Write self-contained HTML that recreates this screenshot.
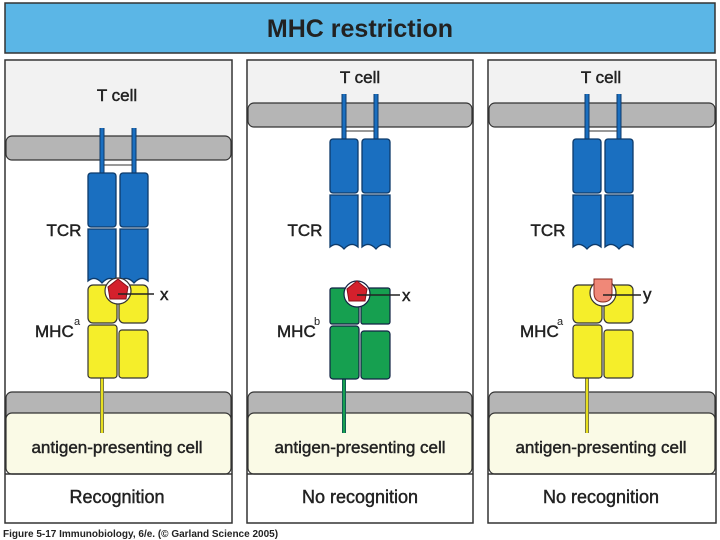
<!DOCTYPE html>
<html><head><style>body{margin:0;background:#fff}svg{display:block}.t{stroke:#222;stroke-width:0.45}</style></head><body>
<svg width="720" height="540" viewBox="0 0 720 540" xmlns="http://www.w3.org/2000/svg" font-family="Liberation Sans, sans-serif">
<defs>
<g id="tcr">
  <line x1="14" y1="-45" x2="14" y2="2" stroke="#0d3a6a" stroke-width="5"/>
  <line x1="14" y1="-45" x2="14" y2="2" stroke="#1a6fc0" stroke-width="3"/>
  <line x1="46" y1="-45" x2="46" y2="2" stroke="#0d3a6a" stroke-width="5"/>
  <line x1="46" y1="-45" x2="46" y2="2" stroke="#1a6fc0" stroke-width="3"/>
  <line x1="16" y1="-8" x2="44" y2="-8" stroke="#333" stroke-width="1"/>
  <g fill="#1a6fc0" stroke="#0d3a6a" stroke-width="1.3">
    <rect x="0" y="0" width="28" height="54" rx="3"/>
    <rect x="32" y="0" width="28" height="54" rx="3"/>
    <path d="M0,56 H28 V108 Q21,102 14,110 Q7,102 0,108 Z"/>
    <path d="M32,56 H60 V108 Q53,102 46,110 Q39,102 32,108 Z"/>
  </g>
</g>
</defs>

<rect x="5" y="3" width="710" height="50" fill="#5bb6e6" stroke="#333" stroke-width="1.5"/>
<text x="360" y="37" font-size="25" font-weight="bold" text-anchor="middle" fill="#222">MHC restriction</text>

<!-- panel 1 -->
<rect x="5" y="60" width="227" height="463" fill="#fff" stroke="#333" stroke-width="1.5"/>
<rect x="6" y="61" width="225" height="77" fill="#f2f2f2"/>
<rect x="6" y="136" width="225" height="24" rx="6" fill="#b5b5b5" stroke="#333" stroke-width="1.2"/>
<text class="t" x="117" y="101" font-size="17" text-anchor="middle" fill="#222">T cell</text>
<rect x="6" y="392" width="225" height="30" rx="6" fill="#b5b5b5" stroke="#333" stroke-width="1.2"/>
<rect x="6" y="413" width="225" height="61" rx="6" fill="#fafae6" stroke="#333" stroke-width="1.2"/>
<line x1="5" y1="474" x2="232" y2="474" stroke="#333" stroke-width="1.5"/>
<use href="#tcr" x="88" y="173"/>
<text class="t" x="64" y="236" font-size="17" text-anchor="middle" fill="#222">TCR</text>
<g transform="translate(88,283)">
  <line x1="14" y1="95" x2="14" y2="150" stroke="#555" stroke-width="4"/>
  <line x1="14" y1="95" x2="14" y2="150" stroke="#e8e020" stroke-width="2.5"/>
  <g fill="#f5ee2a" stroke="#333" stroke-width="1.2">
    <rect x="0" y="2" width="29" height="38" rx="5"/>
    <rect x="31" y="2" width="29" height="38" rx="5"/>
    <rect x="0" y="42" width="29" height="53" rx="3"/>
    <rect x="31" y="47" width="29" height="48" rx="3"/>
    <circle cx="30" cy="8" r="13" fill="#fff"/>
  </g>
  <path d="M30,-4 L40,4 L38,16 L22,16 L20,4 Z" fill="#d4202c" stroke="#8a1018" stroke-width="1"/>
  <line x1="30" y1="11" x2="66" y2="11" stroke="#222" stroke-width="1.5"/>
  <text class="t" x="72" y="17" font-size="17" fill="#222">x</text>
</g>
<text class="t" x="35" y="337" font-size="17" fill="#222">MHC</text><text x="74" y="325" font-size="11" fill="#222">a</text>
<text class="t" x="117" y="453" font-size="17" text-anchor="middle" fill="#222">antigen-presenting cell</text>
<text class="t" x="117" y="503" font-size="18" text-anchor="middle" fill="#222">Recognition</text>

<!-- panel 2 -->
<rect x="247" y="60" width="226" height="463" fill="#fff" stroke="#333" stroke-width="1.5"/>
<rect x="248" y="61" width="224" height="43" fill="#f2f2f2"/>
<rect x="248" y="103" width="224" height="24" rx="6" fill="#b5b5b5" stroke="#333" stroke-width="1.2"/>
<text class="t" x="360" y="83" font-size="17" text-anchor="middle" fill="#222">T cell</text>
<rect x="248" y="392" width="224" height="30" rx="6" fill="#b5b5b5" stroke="#333" stroke-width="1.2"/>
<rect x="248" y="413" width="224" height="61" rx="6" fill="#fafae6" stroke="#333" stroke-width="1.2"/>
<line x1="247" y1="474" x2="473" y2="474" stroke="#333" stroke-width="1.5"/>
<use href="#tcr" x="330" y="139"/>
<text class="t" x="305" y="236" font-size="17" text-anchor="middle" fill="#222">TCR</text>
<g transform="translate(330,288)">
  <line x1="14" y1="91" x2="14" y2="145" stroke="#145" stroke-width="4"/>
  <line x1="14" y1="91" x2="14" y2="145" stroke="#16a050" stroke-width="2.5"/>
  <g fill="#16a050" stroke="#124" stroke-width="1.2">
    <rect x="0" y="0" width="29" height="36" rx="2"/>
    <rect x="31" y="0" width="29" height="36" rx="2"/>
    <rect x="0" y="38" width="29" height="53" rx="3"/>
    <rect x="31" y="43" width="29" height="48" rx="3"/>
    <circle cx="27" cy="6" r="13" fill="#fff"/>
  </g>
  <path d="M27,-7 L37,1 L35,13 L19,13 L17,1 Z" fill="#d4202c" stroke="#8a1018" stroke-width="1"/>
  <line x1="27" y1="7" x2="70" y2="7" stroke="#222" stroke-width="1.5"/>
  <text class="t" x="72" y="13" font-size="17" fill="#222">x</text>
</g>
<text class="t" x="277" y="337" font-size="17" fill="#222">MHC</text><text x="314" y="325" font-size="11" fill="#222">b</text>
<text class="t" x="360" y="453" font-size="17" text-anchor="middle" fill="#222">antigen-presenting cell</text>
<text class="t" x="360" y="503" font-size="18" text-anchor="middle" fill="#222">No recognition</text>

<!-- panel 3 -->
<rect x="488" y="60" width="228" height="463" fill="#fff" stroke="#333" stroke-width="1.5"/>
<rect x="489" y="61" width="226" height="43" fill="#f2f2f2"/>
<rect x="489" y="103" width="226" height="24" rx="6" fill="#b5b5b5" stroke="#333" stroke-width="1.2"/>
<text class="t" x="601" y="83" font-size="17" text-anchor="middle" fill="#222">T cell</text>
<rect x="489" y="392" width="226" height="30" rx="6" fill="#b5b5b5" stroke="#333" stroke-width="1.2"/>
<rect x="489" y="413" width="226" height="61" rx="6" fill="#fafae6" stroke="#333" stroke-width="1.2"/>
<line x1="488" y1="474" x2="716" y2="474" stroke="#333" stroke-width="1.5"/>
<use href="#tcr" x="573" y="139"/>
<text class="t" x="548" y="236" font-size="17" text-anchor="middle" fill="#222">TCR</text>
<g transform="translate(573,283)">
  <line x1="14" y1="95" x2="14" y2="150" stroke="#555" stroke-width="4"/>
  <line x1="14" y1="95" x2="14" y2="150" stroke="#e8e020" stroke-width="2.5"/>
  <g fill="#f5ee2a" stroke="#333" stroke-width="1.2">
    <rect x="0" y="2" width="29" height="38" rx="5"/>
    <rect x="31" y="2" width="29" height="38" rx="5"/>
    <rect x="0" y="42" width="29" height="53" rx="3"/>
    <rect x="31" y="47" width="29" height="48" rx="3"/>
    <circle cx="30" cy="10" r="13" fill="#fff"/>
  </g>
  <path d="M21,-4 H39 V10 Q39,19 30,19 Q21,19 21,10 Z" fill="#f08878" stroke="#8a2a20" stroke-width="1"/>
  <line x1="30" y1="12" x2="68" y2="12" stroke="#222" stroke-width="1.5"/>
  <text class="t" x="70" y="17" font-size="17" fill="#222">y</text>
</g>
<text class="t" x="520" y="337" font-size="17" fill="#222">MHC</text><text x="557" y="325" font-size="11" fill="#222">a</text>
<text class="t" x="601" y="453" font-size="17" text-anchor="middle" fill="#222">antigen-presenting cell</text>
<text class="t" x="601" y="503" font-size="18" text-anchor="middle" fill="#222">No recognition</text>

<text x="3" y="537" font-size="10" font-weight="bold" fill="#222">Figure 5-17  Immunobiology, 6/e. (© Garland Science 2005)</text>
</svg>
</body></html>
